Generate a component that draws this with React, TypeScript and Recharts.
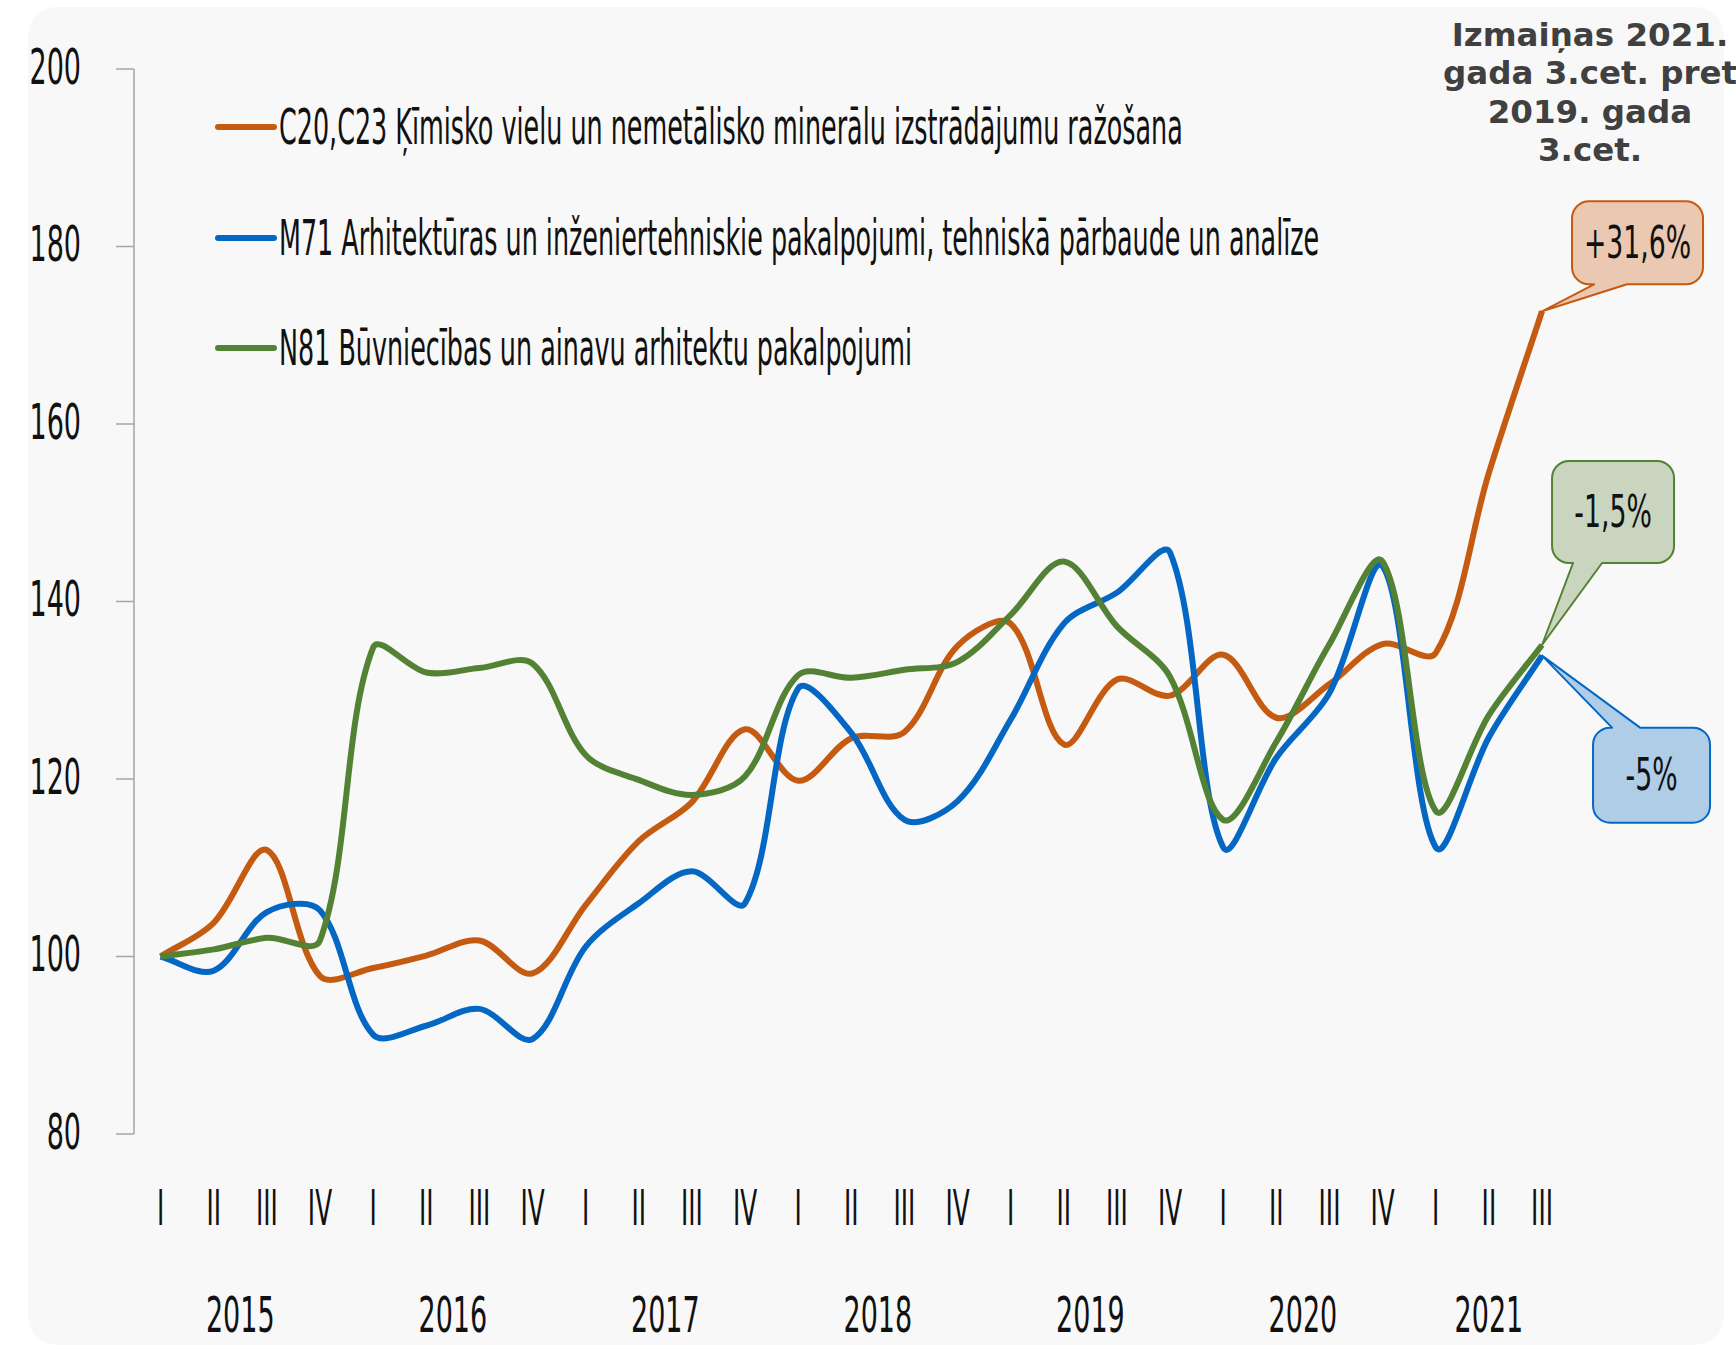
import React from 'react';
import { LineChart, Line, XAxis, YAxis, Legend, ReferenceDot } from 'recharts';

// quarters 2015 I .. 2021 III
const quarterLabels = [
  'I', 'II', 'III', 'IV', 'I', 'II', 'III', 'IV', 'I', 'II', 'III', 'IV',
  'I', 'II', 'III', 'IV', 'I', 'II', 'III', 'IV', 'I', 'II', 'III', 'IV',
  'I', 'II', 'III',
];
const yearLabels = ['2015', '2016', '2017', '2018', '2019', '2020', '2021'];

// index, 2015 I = 100
const chemicals = [
  100, 103.8, 112.0, 97.8, 98.7, 100.1, 101.8, 98.1, 105.8, 113.0, 117.4, 125.6,
  119.8, 124.6, 125.3, 135.0, 137.5, 123.9, 131.2, 129.4, 134.0, 126.9, 130.7, 135.2,
  134.2, 154.5, 172.7,
];
const architecture = [
  100, 98.4, 105.0, 105.2, 91.2, 92.2, 94.1, 90.7, 101.1, 106.0, 109.6, 106.0,
  130.2, 125.2, 115.4, 117.5, 126.7, 137.5, 141.0, 145.5, 112.3, 122.4, 129.7, 144.0,
  112.3, 124.7, 133.9,
];
const landscape = [
  100, 100.8, 102.1, 101.8, 134.8, 132.0, 132.5, 133.0, 122.7, 119.9, 118.2, 120.3,
  131.7, 131.4, 132.3, 133.2, 138.5, 144.5, 137.2, 131.5, 115.4, 124.2, 135.2, 144.5,
  116.4, 127.2, 135.1,
];

const seriesKeys = ['c20', 'm71', 'n81'];
const seriesNames = [
  'C20,C23 Ķīmisko vielu un nemetālisko minerālu izstrādājumu ražošana',
  'M71 Arhitektūras un inženiertehniskie pakalpojumi, tehniskā pārbaude un analīze',
  'N81 Būvniecības un ainavu arhitektu pakalpojumi',
];
const changeLabels = ['+31,6%', '-5%', '-1,5%'];
const valueTicks = [80, 100, 120, 140, 160, 180, 200];

const title = ['Izmaiņas 2021.', 'gada 3.cet. pret', '2019. gada', '3.cet.'];

const rows = quarterLabels.map((q, i) => ({
  i,
  q,
  c20: chemicals[i],
  m71: architecture[i],
  n81: landscape[i],
}));
const seriesValues = [chemicals, architecture, landscape];
const lastIndex = quarterLabels.length - 1;

const quarterTicks = quarterLabels.map((_, i) => i);
const yearTicks = yearLabels.map((_, k) => {
  const idx = quarterTicks.filter((i) => Math.floor(i / 4) === k);
  return idx.reduce((s, v) => s + v, 0) / idx.length;
});

const colors = ['#C55A11', '#0567C4', '#548235'];
const calloutFills = ['#EBC8B2', '#B0CDE8', '#C9D5BF'];
const COND = "'Liberation Sans Narrow', 'DejaVu Sans Condensed', sans-serif";
const NUM_SQUEEZE = 0.6;
const TEXT_SQUEEZE = 0.565;
const ROMAN_SQUEEZE = 0.55;

// Excel-like smoothing: Bezier handles along neighbour chord, scaled by segment lengths
const excelSmooth = (context: any) => {
  let pts: number[][] = [];
  return {
    areaStart() {},
    areaEnd() {},
    lineStart() {
      pts = [];
    },
    point(x: number, y: number) {
      pts.push([+x, +y]);
    },
    lineEnd() {
      const n = pts.length;
      if (!n) return;
      context.moveTo(pts[0][0], pts[0][1]);
      const k = 1 / 3;
      const handles = (i: number) => {
        const p = pts[i];
        const a = pts[Math.max(i - 1, 0)];
        const b = pts[Math.min(i + 1, n - 1)];
        const da = Math.hypot(p[0] - a[0], p[1] - a[1]);
        const db = Math.hypot(b[0] - p[0], b[1] - p[1]);
        const s = da + db || 1;
        const tx = b[0] - a[0];
        const ty = b[1] - a[1];
        return {
          before: [p[0] - (tx * k * da) / s, p[1] - (ty * k * da) / s],
          after: [p[0] + (tx * k * db) / s, p[1] + (ty * k * db) / s],
        };
      };
      for (let i = 0; i < n - 1; i++) {
        const c1 = handles(i).after;
        const c2 = handles(i + 1).before;
        context.bezierCurveTo(c1[0], c1[1], c2[0], c2[1], pts[i + 1][0], pts[i + 1][1]);
      }
    },
  };
};

const ValueTick = (props: any) => {
  const { x, y, payload } = props;
  return (
    <text
      transform={`translate(${x},${y - 2}) scale(${NUM_SQUEEZE},1)`}
      textAnchor="end"
      dominantBaseline="central"
      fontFamily={COND}
      fontSize={50}
      fill="#111"
    >
      {payload.value}
    </text>
  );
};

const QuarterTick = (props: any) => {
  const { x, y, payload } = props;
  return (
    <text
      transform={`translate(${x},${y + 74}) scale(${ROMAN_SQUEEZE},1)`}
      textAnchor="middle"
      dominantBaseline="central"
      fontFamily={COND}
      fontSize={50}
      fill="#111"
    >
      {quarterLabels[payload.value]}
    </text>
  );
};

const YearTick = (props: any) => {
  const { x, y, payload } = props;
  const k = yearTicks.indexOf(payload.value);
  return (
    <text
      transform={`translate(${x},${y + 61}) scale(${NUM_SQUEEZE},1)`}
      textAnchor="middle"
      dominantBaseline="central"
      fontFamily={COND}
      fontSize={50}
      fill="#111"
    >
      {yearLabels[k]}
    </text>
  );
};

const renderLegend = (props: any) => (
  <div>
    {(props.payload || []).map((entry: any) => (
      <div key={entry.value} style={{ display: 'flex', alignItems: 'center', height: 110.5 }}>
        <svg width={62} height={10} style={{ flex: 'none' }}>
          <line x1={3} y1={5} x2={59} y2={5} stroke={entry.color} strokeWidth={6} strokeLinecap="round" />
        </svg>
        <span
          style={{
            fontFamily: COND,
            fontSize: 50,
            lineHeight: 1,
            color: '#111',
            whiteSpace: 'nowrap',
            transform: `scaleX(${TEXT_SQUEEZE})`,
            transformOrigin: 'left center',
            marginLeft: 2,
          }}
        >
          {entry.value}
        </span>
      </div>
    ))}
  </div>
);

// callout boxes, offsets relative to the last point of each series
const calloutLayout = [
  { box: [30, -110, 161, -27], base: [52, 85], edge: 'bottom' },
  { box: [51, 72, 168, 167], base: [70, 98], edge: 'top' },
  { box: [10, -184, 132, -82], base: [31, 60], edge: 'bottom' },
];

const calloutPath = (cx: number, cy: number, s: any) => {
  const r = 17;
  const x0 = cx + s.box[0];
  const y0 = cy + s.box[1];
  const x1 = cx + s.box[2];
  const y1 = cy + s.box[3];
  const a = cx + s.base[0];
  const b = cx + s.base[1];
  const arc = (x: number, y: number) => `A${r},${r} 0 0 1 ${x},${y}`;
  if (s.edge === 'bottom') {
    return `M${x0 + r},${y0} H${x1 - r} ${arc(x1, y0 + r)} V${y1 - r} ${arc(x1 - r, y1)} H${b} L${cx},${cy} L${a},${y1} H${x0 + r} ${arc(x0, y1 - r)} V${y0 + r} ${arc(x0 + r, y0)} Z`;
  }
  return `M${x0 + r},${y0} H${a} L${cx},${cy} L${b},${y0} H${x1 - r} ${arc(x1, y0 + r)} V${y1 - r} ${arc(x1 - r, y1)} H${x0 + r} ${arc(x0, y1 - r)} V${y0 + r} ${arc(x0 + r, y0)} Z`;
};

const makeCallout = (n: number) => (props: any) => {
  const { cx, cy } = props;
  const s = calloutLayout[n];
  const tx = cx + (s.box[0] + s.box[2]) / 2;
  const ty = cy + (s.box[1] + s.box[3]) / 2;
  return (
    <g>
      <path d={calloutPath(cx, cy, s)} fill={calloutFills[n]} stroke={colors[n]} strokeWidth={2} strokeLinejoin="round" />
      <text
        transform={`translate(${tx},${ty}) scale(0.66,1)`}
        textAnchor="middle"
        dominantBaseline="central"
        fontFamily={COND}
        fontSize={45}
        fill="#111"
      >
        {changeLabels[n]}
      </text>
    </g>
  );
};

export default function App() {
  return (
    <div style={{ position: 'relative', width: 1736, height: 1347, background: '#fff', overflow: 'hidden' }}>
      <style>{'body{margin:0}'}</style>
      <div
        style={{
          position: 'absolute',
          left: 28,
          top: 7,
          width: 1696,
          height: 1338,
          borderRadius: 28,
          background: '#F8F8F8',
        }}
      />
      <div style={{ position: 'absolute', left: 0, top: 0 }}>
        <LineChart width={1736} height={1347} data={rows} margin={{ top: 69, right: 167.4, bottom: 0, left: 0 }}>
          <XAxis
            xAxisId="q"
            type="number"
            dataKey="i"
            domain={[-0.5, 26.5]}
            allowDataOverflow
            ticks={quarterTicks}
            interval={0}
            axisLine={false}
            tickLine={false}
            tickSize={0}
            tickMargin={0}
            height={120}
            tick={<QuarterTick />}
          />
          <XAxis
            xAxisId="yr"
            type="number"
            dataKey="i"
            domain={[-0.5, 26.5]}
            allowDataOverflow
            ticks={yearTicks}
            interval={0}
            axisLine={false}
            tickLine={false}
            tickSize={0}
            tickMargin={0}
            height={93}
            tick={<YearTick />}
          />
          <YAxis
            domain={[80, 200]}
            ticks={valueTicks}
            interval={0}
            width={134}
            tickSize={18}
            tickMargin={35}
            axisLine={{ stroke: '#A6A6A6', strokeWidth: 1.5 }}
            tickLine={{ stroke: '#A6A6A6', strokeWidth: 1.5 }}
            tick={<ValueTick />}
          />
          <Legend
            layout="horizontal"
            verticalAlign="middle"
            align="center"
            wrapperStyle={{ left: 215, top: 72, width: 1200, height: 'auto' }}
            content={renderLegend}
          />
          {seriesKeys.map((key, n) => (
            <Line
              key={key}
              xAxisId="q"
              dataKey={key}
              name={seriesNames[n]}
              type={excelSmooth as any}
              stroke={colors[n]}
              strokeWidth={6}
              strokeLinejoin="round"
              dot={false}
              activeDot={false}
              legendType="line"
              isAnimationActive={false}
            />
          ))}
          {seriesKeys.map((key, n) => (
            <ReferenceDot
              key={`c-${key}`}
              xAxisId="q"
              x={lastIndex}
              y={seriesValues[n][lastIndex]}
              r={0}
              ifOverflow="visible"
              shape={makeCallout(n)}
            />
          ))}
        </LineChart>
      </div>
      <div
        style={{
          position: 'absolute',
          left: 1440,
          top: 16,
          width: 300,
          textAlign: 'center',
          fontFamily: "'DejaVu Sans', Verdana, sans-serif",
          fontWeight: 'bold',
          fontSize: 32.5,
          lineHeight: '38.3px',
          color: '#404040',
        }}
      >
        {title.map((t) => (
          <div key={t} style={{ whiteSpace: 'nowrap' }}>
            {t}
          </div>
        ))}
      </div>
    </div>
  );
}
